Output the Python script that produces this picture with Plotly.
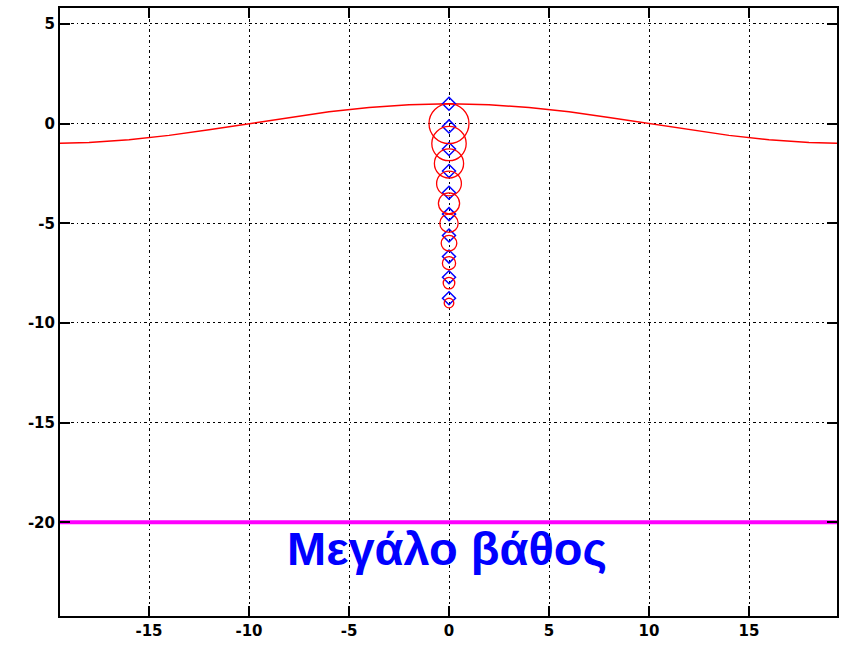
import plotly.graph_objects as go

# Surface profile
surf_x = [-20, -18, -16, -14, -12, -10, -8, -6, -4, -2, 0, 2, 4, 6, 8, 10, 12, 14, 16, 18, 20]
surf_y = [-1.0, -0.95, -0.81, -0.59, -0.31, 0.0, 0.31, 0.59, 0.81, 0.95, 1.0,
          0.95, 0.81, 0.59, 0.31, 0.0, -0.31, -0.59, -0.81, -0.95, -1.0]

# Particle orbits: centres and radii
orbit_x = [0, 0, 0, 0, 0, 0, 0, 0, 0, 0]
orbit_y = [0, -1, -2, -3, -4, -5, -6, -7, -8, -9]
orbit_r = [1.0, 0.86, 0.73, 0.62, 0.53, 0.46, 0.39, 0.33, 0.29, 0.24]

# Particle positions
part_x = [0, 0, 0, 0, 0, 0, 0, 0, 0, 0]
part_y = [1.0, -0.14, -1.27, -2.38, -3.47, -4.54, -5.61, -6.67, -7.71, -8.76]

# Deep-water line
deep_x = [-25, 25]
deep_y = [-20, -20]

label_text = "Μεγάλο βάθος"

x_ticks = [-15, -10, -5, 0, 5, 10, 15]
y_ticks = [5, 0, -5, -10, -15, -20]

fig = go.Figure()

fig.add_trace(go.Scatter(x=surf_x, y=surf_y, mode="lines",
                         line=dict(color="#ff0000", width=1.5), showlegend=False))
fig.add_trace(go.Scatter(x=deep_x, y=deep_y, mode="lines",
                         line=dict(color="#ff00ff", width=4), showlegend=False))

for cx, cy, r in zip(orbit_x, orbit_y, orbit_r):
    fig.add_shape(type="circle", xref="x", yref="y",
                  x0=cx - r, x1=cx + r, y0=cy - r, y1=cy + r,
                  line=dict(color="#ff0000", width=1.3))

fig.add_trace(go.Scatter(x=part_x, y=part_y, mode="markers",
                         marker=dict(symbol="diamond-open", size=10,
                                     color="#0000ff", line=dict(width=1.5, color="#0000ff")),
                         showlegend=False))

fig.add_annotation(x=-0.1, y=-21.3, xref="x", yref="y", text="<b>" + label_text + "</b>",
                   showarrow=False, xanchor="center", yanchor="middle",
                   font=dict(family="Liberation Sans", size=47, color="#0000ff"))

axis_common = dict(showline=True, linecolor="black", linewidth=2, mirror="ticks",
                   ticks="inside", ticklen=10, tickwidth=2, tickcolor="black",
                   showgrid=True, gridcolor="black", gridwidth=1,
                   griddash="3px,3px,1.5px,3px", zeroline=False,
                   tickfont=dict(family="DejaVu Sans", size=15, color="black", weight="bold"))

fig.update_xaxes(range=[-19.45, 19.4], tickvals=x_ticks,
                 ticktext=[str(v) for v in x_ticks], **axis_common)
fig.update_yaxes(range=[-24.7, 5.8], tickvals=y_ticks,
                 ticktext=[str(v) for v in y_ticks], **axis_common)

fig.update_layout(width=846, height=647, margin=dict(l=60, r=9, t=6, b=31),
                  paper_bgcolor="white", plot_bgcolor="white", showlegend=False)

fig.write_html("out.html")
